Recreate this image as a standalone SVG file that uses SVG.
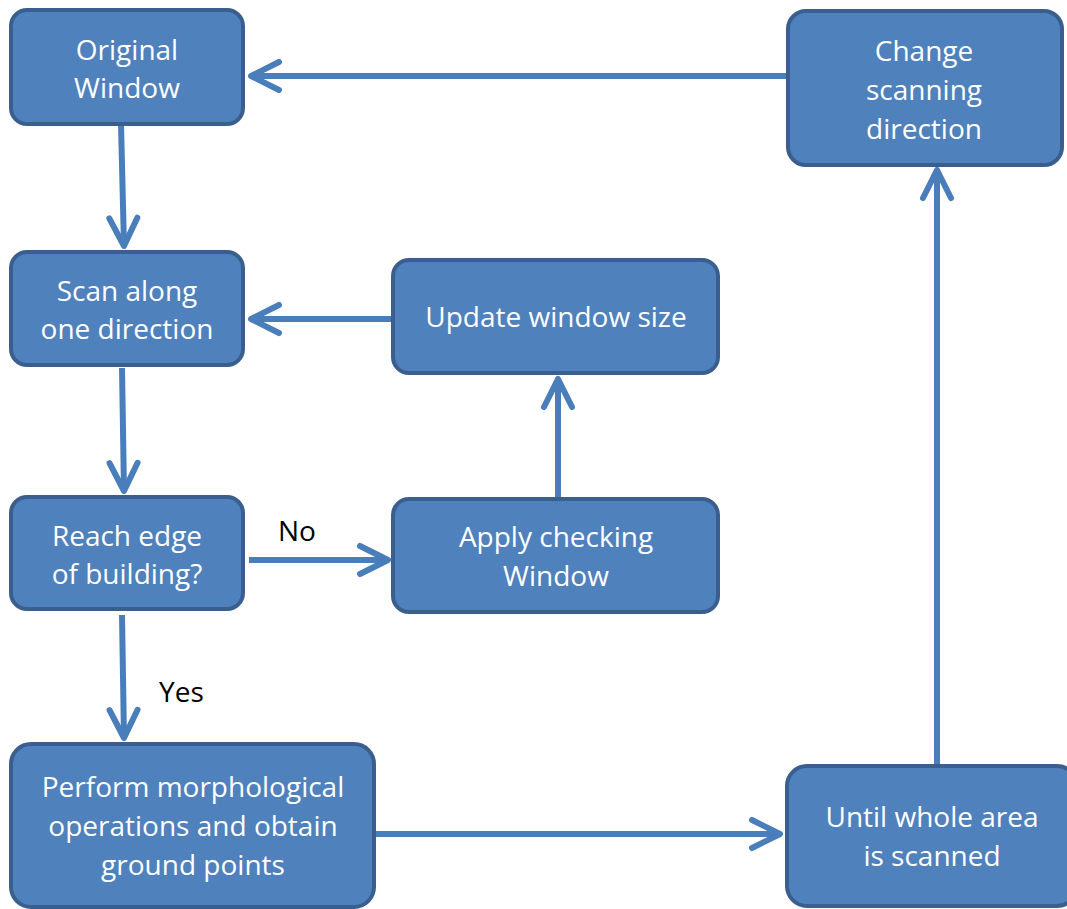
<svg xmlns="http://www.w3.org/2000/svg" width="1067" height="909" viewBox="0 0 1067 909">
<defs>
<style>
.node rect{fill:#4f81bd;stroke:#3a5f8e;stroke-width:4}
.node text{fill:#ffffff;font-family:"Open Sans","Liberation Sans",sans-serif;font-size:28px;text-anchor:middle}
.lbl{fill:#000000;font-family:"Open Sans","Liberation Sans",sans-serif;font-size:28px}
.conn line{stroke:#4a7ebb;stroke-width:6;fill:none;marker-end:url(#arr)}
</style>
<marker id="arr" markerUnits="userSpaceOnUse" viewBox="-34 -20 40 40" refX="0" refY="0" markerWidth="40" markerHeight="40" orient="auto">
<path d="M-28,-14 L0,0 L-28,14" fill="none" stroke="#4a7ebb" stroke-width="6" stroke-linecap="round" stroke-linejoin="round"/>
</marker>
</defs>
<rect width="1067" height="909" fill="#ffffff"/>
<g id="connectors" class="conn">
<line x1="121" y1="124" x2="124" y2="246"/>
<line x1="787" y1="76" x2="251" y2="76"/>
<line x1="122" y1="368" x2="124" y2="491"/>
<line x1="393" y1="319" x2="251" y2="319"/>
<line x1="249" y1="560" x2="388" y2="560"/>
<line x1="558" y1="497" x2="558" y2="379"/>
<line x1="122" y1="615" x2="124" y2="738"/>
<line x1="376" y1="834" x2="780" y2="834"/>
<line x1="937" y1="768" x2="937" y2="170"/>
</g>
<g id="n_original" class="node"><rect x="11" y="10" width="232" height="114" rx="16"/><text x="127" y="60">Original</text><text x="127" y="98">Window</text></g>
<g id="n_change" class="node"><rect x="788" y="11" width="274" height="154" rx="18"/><text x="924" y="61">Change</text><text x="924" y="100">scanning</text><text x="924" y="139">direction</text></g>
<g id="n_scan" class="node"><rect x="11" y="252" width="232" height="113" rx="16"/><text x="127" y="301">Scan along</text><text x="127" y="339">one direction</text></g>
<g id="n_update" class="node"><rect x="393" y="260" width="325" height="113" rx="16"/><text x="556" y="327">Update window size</text></g>
<g id="n_reach" class="node"><rect x="11" y="497" width="232" height="112" rx="16"/><text x="127" y="546">Reach edge</text><text x="127" y="584">of building?</text></g>
<g id="n_apply" class="node"><rect x="393" y="499" width="325" height="113" rx="16"/><text x="556" y="547">Apply checking</text><text x="556" y="586">Window</text></g>
<g id="n_perform" class="node"><rect x="11" y="744" width="363" height="163" rx="20"/><text x="193" y="797">Perform morphological</text><text x="193" y="836">operations and obtain</text><text x="193" y="875">ground points</text></g>
<g id="n_until" class="node"><rect x="787" y="766" width="290" height="140" rx="20"/><text x="932" y="827">Until whole area</text><text x="932" y="866">is scanned</text></g>
<text class="lbl" x="278" y="541">No</text>
<text class="lbl" x="159" y="702">Yes</text>
</svg>
